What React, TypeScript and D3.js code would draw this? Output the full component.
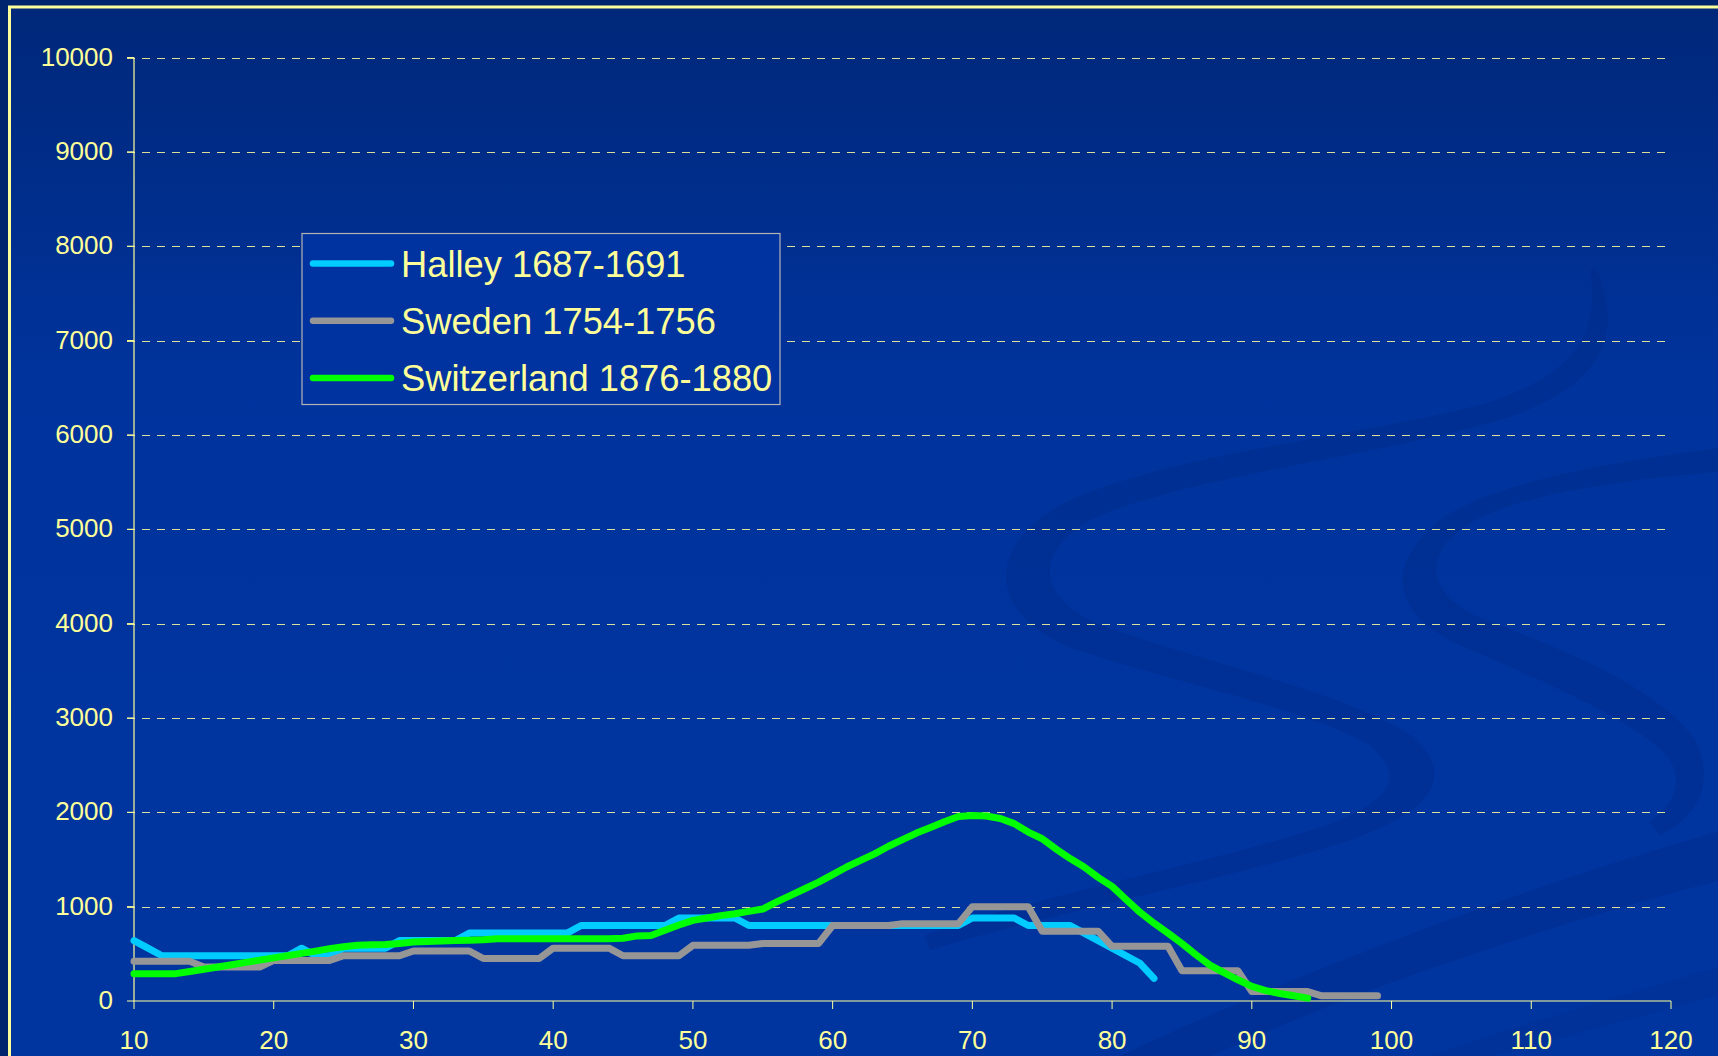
import React from "react";
import * as d3 from "d3";

const xTicks = [10, 20, 30, 40, 50, 60, 70, 80, 90, 100, 110, 120];
const yTicks = [0, 1000, 2000, 3000, 4000, 5000, 6000, 7000, 8000, 9000, 10000];

const seriesNames = ["Halley 1687-1691", "Sweden 1754-1756", "Switzerland 1876-1880"];
const seriesColors = ["#00ccff", "#969696", "#00ff00"];

const halleyAges = [10, 11, 12, 13, 14, 15, 16, 17, 18, 19, 20, 21, 22, 23, 24, 25, 26, 27, 28, 29, 30, 31, 32, 33, 34, 35, 36, 37, 38, 39, 40, 41, 42, 43, 44, 45, 46, 47, 48, 49, 50, 51, 52, 53, 54, 55, 56, 57, 58, 59, 60, 61, 62, 63, 64, 65, 66, 67, 68, 69, 70, 71, 72, 73, 74, 75, 76, 77, 78, 79, 80, 81, 82, 83];
const halleyValues = [640, 560, 480, 480, 480, 480, 480, 480, 480, 480, 480, 480, 560, 480, 480, 560, 560, 560, 560, 640, 640, 640, 640, 640, 720, 720, 720, 720, 720, 720, 720, 720, 800, 800, 800, 800, 800, 800, 800, 880, 880, 880, 880, 880, 800, 800, 800, 800, 800, 800, 800, 800, 800, 800, 800, 800, 800, 800, 800, 800, 880, 880, 880, 880, 800, 800, 800, 800, 720, 640, 560, 480, 400, 240];

const swedenAges = [10, 11, 12, 13, 14, 15, 16, 17, 18, 19, 20, 21, 22, 23, 24, 25, 26, 27, 28, 29, 30, 31, 32, 33, 34, 35, 36, 37, 38, 39, 40, 41, 42, 43, 44, 45, 46, 47, 48, 49, 50, 51, 52, 53, 54, 55, 56, 57, 58, 59, 60, 61, 62, 63, 64, 65, 66, 67, 68, 69, 70, 71, 72, 73, 74, 75, 76, 77, 78, 79, 80, 81, 82, 83, 84, 85, 86, 87, 88, 89, 90, 91, 92, 93, 94, 95, 96, 97, 98, 99];
const swedenValues = [420, 420, 420, 420, 420, 360, 360, 360, 360, 360, 430, 430, 430, 430, 430, 480, 480, 480, 480, 480, 530, 530, 530, 530, 530, 450, 450, 450, 450, 450, 560, 560, 560, 560, 560, 480, 480, 480, 480, 480, 590, 590, 590, 590, 590, 610, 610, 610, 610, 610, 800, 800, 800, 800, 800, 820, 820, 820, 820, 820, 1000, 1000, 1000, 1000, 1000, 740, 740, 740, 740, 740, 580, 580, 580, 580, 580, 320, 320, 320, 320, 320, 100, 100, 100, 100, 100, 55, 55, 55, 55, 55];

const swissAges = [10, 11, 12, 13, 14, 15, 16, 17, 18, 19, 20, 21, 22, 23, 24, 25, 26, 27, 28, 29, 30, 31, 32, 33, 34, 35, 36, 37, 38, 39, 40, 41, 42, 43, 44, 45, 46, 47, 48, 49, 50, 51, 52, 53, 54, 55, 56, 57, 58, 59, 60, 61, 62, 63, 64, 65, 66, 67, 68, 69, 70, 71, 72, 73, 74, 75, 76, 77, 78, 79, 80, 81, 82, 83, 84, 85, 86, 87, 88, 89, 90, 91, 92, 93, 94];
const swissValues = [290, 290, 290, 290, 313, 337, 361, 385, 409, 433, 457, 481, 505, 529, 555, 575, 590, 595, 598, 610, 625, 630, 635, 640, 645, 650, 660, 660, 660, 660, 660, 660, 660, 660, 660, 665, 690, 695, 750, 805, 855, 880, 905, 925, 950, 975, 1050, 1120, 1190, 1260, 1340, 1420, 1490, 1560, 1640, 1710, 1780, 1840, 1900, 1955, 1965, 1960, 1935, 1880, 1790, 1720, 1610, 1510, 1420, 1310, 1215, 1075, 940, 825, 720, 610, 490, 380, 300, 225, 155, 110, 80, 55, 30];

const seriesAges = [halleyAges, swedenAges, swissAges];
const seriesValues = [halleyValues, swedenValues, swissValues];

const W = 1718;
const H = 1056;
const TXT = "#ffff99";

export default function App() {
  const x = d3.scaleLinear().domain([10, 120]).range([134, 1671]);
  const y = d3.scaleLinear().domain([0, 10000]).range([1001, 57.5]);
  const line = d3
    .line<[number, number]>()
    .x((d) => x(d[0]))
    .y((d) => y(d[1]));

  // subtle decorative ribbons of the slide template (filled shapes)
  const swooshA =
    "M1596,268 C1622,330 1610,385 1500,420 C1360,460 1190,475 1090,520 C1030,555 1040,600 1100,625 C1200,662 1340,690 1410,735 C1460,775 1430,812 1350,840 C1230,880 1080,905 930,950 L925,935 C1060,890 1215,862 1325,826 C1395,800 1405,775 1370,745 C1300,705 1160,680 1065,645 C990,612 985,548 1060,505 C1160,455 1340,440 1480,405 C1580,375 1600,330 1590,270 Z";
  const swooshB =
    "M1740,470 C1640,478 1510,492 1460,530 C1420,560 1430,600 1490,622 C1570,652 1660,690 1695,740 C1715,780 1700,815 1660,835 L1650,822 C1680,800 1685,775 1662,750 C1615,710 1540,680 1460,645 C1385,610 1390,560 1440,520 C1500,478 1630,460 1740,445 Z";
  const swooshC = "M1760,820 L1760,870 C1560,920 1350,990 1180,1070 L1090,1070 C1300,970 1540,880 1760,820 Z";
  const swooshD = "M1760,955 L1760,985 C1640,1015 1520,1050 1440,1070 L1390,1070 C1500,1030 1640,990 1760,955 Z";

  return (
    <div>
      <style>{`body{margin:0;background:#00246e;}`}</style>
      <svg width={W} height={H} style={{ display: "block" }} fontFamily="'Liberation Sans', Arial, sans-serif">
        <defs>
          <linearGradient id="bg" x1="0" y1="0" x2="0" y2="1">
            <stop offset="0%" stopColor="#00287a" />
            <stop offset="35%" stopColor="#00339c" />
            <stop offset="100%" stopColor="#0035a0" />
          </linearGradient>
          <clipPath id="frameClip">
            <rect x={10} y={8} width={W} height={H} />
          </clipPath>
        </defs>
        <rect x={0} y={0} width={W} height={H} fill="#00246e" />
        <rect x={10} y={8} width={W} height={H} fill="url(#bg)" />
        <g clipPath="url(#frameClip)" fill="#002a86" fillOpacity={0.38} stroke="none">
          <path d={swooshA} />
          <path d={swooshB} />
          <path d={swooshC} />
          <path d={swooshD} fillOpacity={0.25} />
        </g>
        <rect x={9.5} y={7} width={W + 20} height={H + 20} fill="none" stroke={TXT} strokeWidth={3} />

        {/* gridlines */}
        {yTicks
          .filter((t) => t > 0)
          .map((t) => (
            <line key={"g" + t} x1={127} x2={x(120)} y1={Math.round(y(t)) + 0.5} y2={Math.round(y(t)) + 0.5} stroke={TXT} strokeOpacity={0.85} strokeWidth={1} strokeDasharray="8,7" />
          ))}

        {/* y axis */}
        <line x1={x(10)} x2={x(10)} y1={y(10000)} y2={y(0)} stroke={TXT} strokeWidth={1.2} />
        {yTicks.map((t) => (
          <g key={"y" + t}>
            <line x1={127} x2={x(10)} y1={y(t)} y2={y(t)} stroke={TXT} strokeWidth={1} />
            <text x={113} y={y(t) + 8} textAnchor="end" fontSize={26} fill={TXT}>
              {t}
            </text>
          </g>
        ))}

        {/* x axis */}
        <line x1={x(10)} x2={x(120)} y1={y(0)} y2={y(0)} stroke={TXT} strokeWidth={1.2} />
        {xTicks.map((t) => (
          <g key={"x" + t}>
            <line x1={x(t)} x2={x(t)} y1={y(0)} y2={y(0) + 8} stroke={TXT} strokeWidth={1} />
            <text x={x(t)} y={1049} textAnchor="middle" fontSize={26} fill={TXT}>
              {t}
            </text>
          </g>
        ))}

        {/* series */}
        {seriesAges.map((ages, i) => {
          const pts = ages.map((a, j) => [a, seriesValues[i][j]] as [number, number]);
          return (
            <path key={"s" + i} d={line(pts) || ""} fill="none" stroke={seriesColors[i]} strokeWidth={7} strokeLinejoin="round" strokeLinecap="round" />
          );
        })}

        {/* legend */}
        <rect x={302} y={233.5} width={478} height={171} fill="#0033a0" stroke="#b4b4b4" strokeWidth={1.2} />
        {seriesNames.map((name, i) => {
          const ly = 263.5 + i * 57.2;
          return (
            <g key={"l" + i}>
              <line x1={313} x2={391} y1={ly} y2={ly} stroke={seriesColors[i]} strokeWidth={6.5} strokeLinecap="round" />
              <text x={401} y={ly + 13} fontSize={36.3} fill={TXT}>
                {name}
              </text>
            </g>
          );
        })}
      </svg>
    </div>
  );
}
